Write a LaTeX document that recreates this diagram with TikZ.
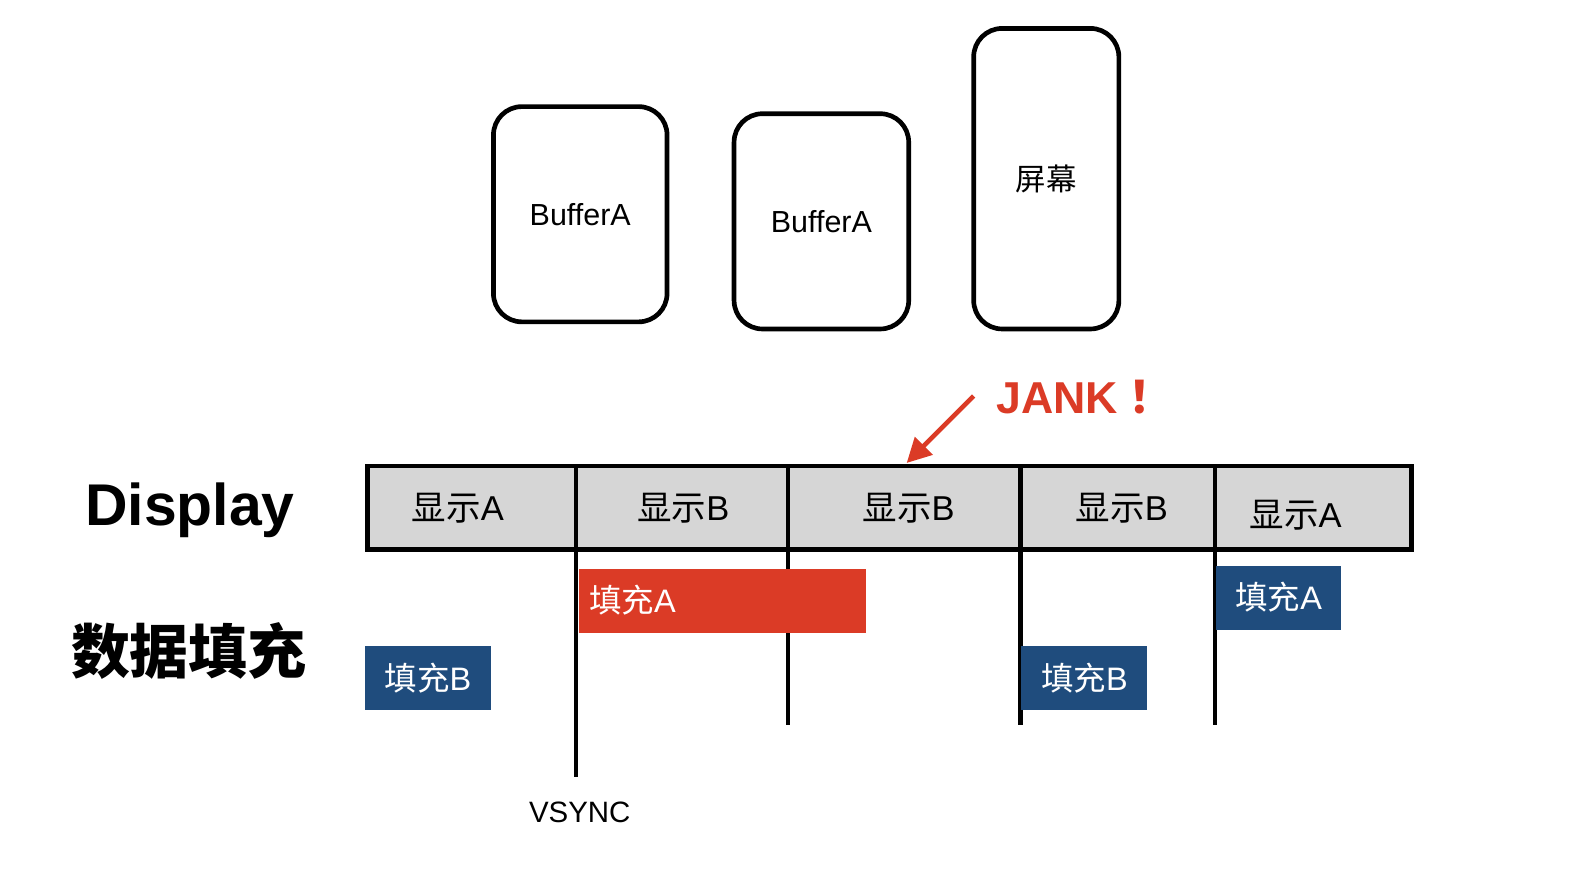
\documentclass[tikz,border=0pt]{standalone}
\usepackage{fontspec}
\setmainfont{Liberation Sans}
\newfontfamily\cjk{Noto Sans CJK SC}
\newfontfamily\cjktc{Noto Sans CJK TC}
\usetikzlibrary{arrows.meta}
\definecolor{cellgray}{HTML}{D6D6D6}
\definecolor{jankred}{HTML}{DB3B26}
\definecolor{fillblue}{HTML}{1F4C7D}
\tikzset{
  buffer/.style={draw, line width=4.6pt, rounded corners=28pt, inner sep=0pt, font=\fontsize{30}{34}\selectfont},
  cell/.style={inner sep=0pt, font=\fontsize{34}{38}\selectfont},
  fillbox/.style={inner sep=0pt, minimum height=63pt, text=white, font=\fontsize{32}{36}\selectfont},
  tick/.style={line width=4.2pt},
}
\begin{document}
\begin{tikzpicture}[x=1pt,y=-1pt]
        \useasboundingbox (0,0) rectangle (1568,865);
        % buffers and screen
        \node[buffer, minimum width=171pt, minimum height=212pt] (bufA) at (571.5,211) {BufferA};
        \node[buffer, minimum width=172pt, minimum height=212pt] (bufB) at (809,218) {BufferA};
        \node[buffer, minimum width=143pt, minimum height=296pt] (screen) at (1030.5,176) {\cjk 屏幕};
        % display row
        \draw[fill=cellgray, line width=4.8pt] (362,459) rectangle (1390,541);
        \foreach \x/\n/\len in {567/a/765, 776/b/714, 1005/c/714, 1197/d/714} {
            \coordinate (top\n) at (\x,459);
            \coordinate (bot\n) at (\x,\len);
            \draw[tick] (top\n) -- (bot\n);
        }
        \node[cell] (showA1) at (451,501) {{\cjk 显示}A};
        \node[cell] (showB1) at (673,501) {{\cjk 显示}B};
        \node[cell] (showB2) at (895,501) {{\cjk 显示}B};
        \node[cell] (showB3) at (1105,501) {{\cjk 显示}B};
        \node[cell] (showA2) at (1276,507) {{\cjk 显示}A};
        % row titles
        \node[font=\fontsize{58}{62}\selectfont\bfseries] (display) at (187,503) {Display};
        \node[font=\cjk\fontsize{58}{62}\selectfont\bfseries] (filling) at (186,641) {数据填充};
        % jank
        \node[anchor=west, inner sep=0pt, text=jankred, font=\bfseries\fontsize{44}{50}\selectfont] (jank) at (981,391) {JANK{\cjktc ！}};
        \coordinate (jankfrom) at (959,390);
        \coordinate (jankto) at (893,456);
        \draw[jankred, line width=4.6pt, -{Triangle[length=24pt,width=24pt]}] (jankfrom) -- (jankto);
        % fill boxes
        \node[fillbox, fill=jankred, minimum width=283pt] (fillA1) at (711.5,591.5) {};
        \node[anchor=west, inner sep=0pt, text=white, font=\fontsize{32}{36}\selectfont] (fillA1txt) at (580,591) {{\cjk 填充}A};
        \node[fillbox, fill=fillblue, minimum width=125pt] (fillB1) at (421.5,667.5) {{\cjk 填充}B};
        \node[fillbox, fill=fillblue, minimum width=124pt] (fillB2) at (1068,667.5) {{\cjk 填充}B};
        \node[fillbox, fill=fillblue, minimum width=123pt] (fillA2) at (1259.5,588.5) {{\cjk 填充}A};
        \node[font=\fontsize{29}{32}\selectfont] (vsync) at (571,800) {VSYNC};
    \end{tikzpicture}
\end{document}
